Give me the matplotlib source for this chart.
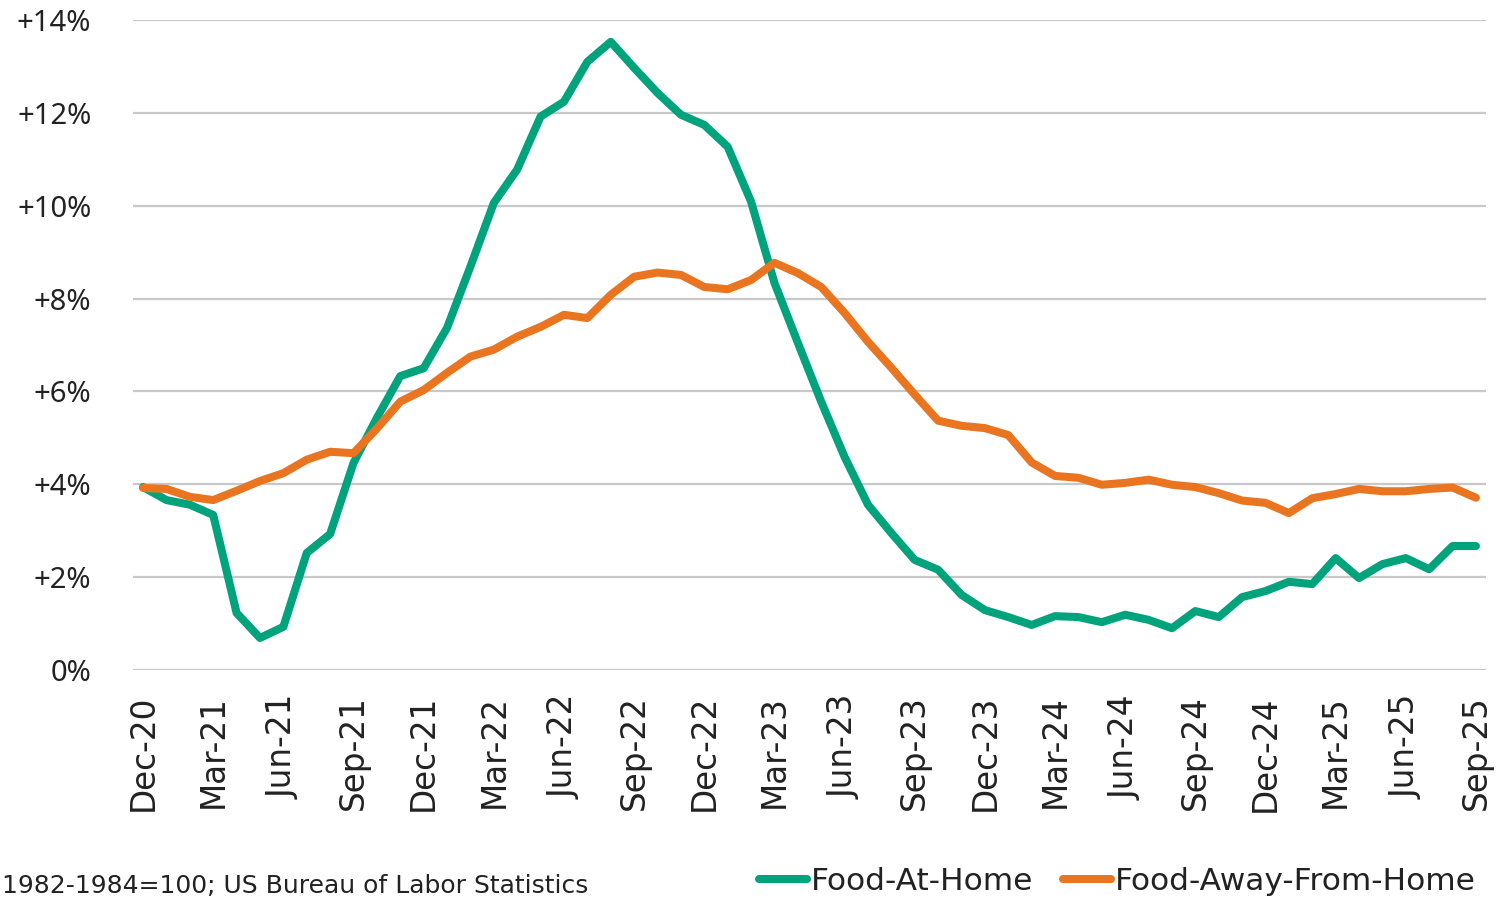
import matplotlib
matplotlib.use('Agg')
import matplotlib.pyplot as plt
import pandas as pd

months = pd.date_range('2020-12-01', '2025-09-01', freq='MS')

food_at_home = [3.94, 3.66, 3.56, 3.34, 1.23, 0.69, 0.93, 2.52, 2.93, 4.46,
                5.43, 6.33, 6.50, 7.37, 8.69, 10.06, 10.78, 11.92, 12.24, 13.10,
                13.53, 12.97, 12.43, 11.96, 11.74, 11.27, 10.09, 8.34, 7.05, 5.78,
                4.59, 3.56, 2.95, 2.37, 2.16, 1.62, 1.29, 1.14, 0.97, 1.16,
                1.14, 1.03, 1.19, 1.08, 0.90, 1.27, 1.14, 1.57, 1.70, 1.90,
                1.85, 2.41, 1.98, 2.28, 2.41, 2.17, 2.67, 2.67]

food_away = [3.92, 3.90, 3.73, 3.66, 3.86, 4.07, 4.24, 4.53, 4.70, 4.67,
             5.20, 5.78, 6.03, 6.40, 6.75, 6.90, 7.18, 7.39, 7.65, 7.58,
             8.08, 8.47, 8.56, 8.51, 8.25, 8.20, 8.40, 8.77, 8.55, 8.25,
             7.69, 7.07, 6.51, 5.93, 5.37, 5.26, 5.21, 5.06, 4.47, 4.18,
             4.14, 3.99, 4.03, 4.10, 3.99, 3.94, 3.81, 3.65, 3.60, 3.38,
             3.70, 3.79, 3.90, 3.85, 3.85, 3.90, 3.93, 3.71]

month_labels = [m.strftime('%b-%y') for m in months]
y_ticks = [0, 2, 4, 6, 8, 10, 12, 14]
y_labels = ['0%', '+2%', '+4%', '+6%', '+8%', '+10%', '+12%', '+14%']

plt.rcParams['font.family'] = ['DejaVu Sans']

green = '#00A37C'
orange = '#EA7520'
txt = '#222222'

fig = plt.figure(figsize=(15.06, 9), dpi=100)
ax = fig.add_axes([133/1506, 1-670/900, (1486-133)/1506, 650/900])

x = list(range(len(months)))
ax.plot(x, food_at_home, color=green, lw=5.8, label='Food-At-Home', solid_capstyle='round')
ax.plot(x, food_away, color=orange, lw=5.8, label='Food-Away-From-Home', solid_capstyle='round')

ax.set_xlim(-0.43, len(months) - 1 + 0.43)
ax.set_ylim(0, 14)
ax.set_yticks(y_ticks)
ax.set_yticklabels(y_labels, fontsize=21, color=txt, family='Noto Sans')
ax.set_xticks(x[::3])
ax.set_xticklabels(month_labels[::3], rotation=90, fontsize=23.5, color=txt)
ax.tick_params(axis='both', length=0)
ax.tick_params(axis='y', pad=30)
ax.tick_params(axis='x', pad=18)
ax.grid(axis='y', color='#C8C8C8', lw=1.6)
ax.set_axisbelow(True)
for s in ax.spines.values():
    s.set_visible(False)

fig.text(0.001, 1-886/900, '1982-1984=100; US Bureau of Labor Statistics',
         fontsize=18, va='center', ha='left', color=txt)
fig.legend(loc='center right', bbox_to_anchor=(1476/1506, 1-881/900), ncol=2,
           frameon=False, fontsize=22.5, handlelength=1.55, handletextpad=0.12,
           columnspacing=0.95, borderaxespad=0, borderpad=0, labelcolor=txt)

fig.savefig('out.png', dpi=100)
